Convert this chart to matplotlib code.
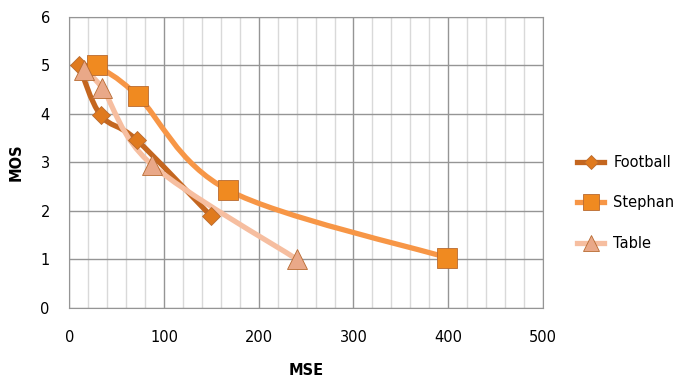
import numpy as np
import matplotlib
matplotlib.use("Agg")
import matplotlib.pyplot as plt
from matplotlib.path import Path
from matplotlib.patches import PathPatch

# values
football_mse = [10, 33, 71, 150]
football_mos = [5.0, 3.97, 3.46, 1.88]
stephan_mse = [29, 72, 168, 399]
stephan_mos = [5.0, 4.37, 2.42, 1.03]
table_mse = [15, 35, 87, 240]
table_mos = [4.9, 4.52, 2.95, 1.0]

x_ticks = [0, 100, 200, 300, 400, 500]
y_ticks = [0, 1, 2, 3, 4, 5, 6]


def smooth_path(xs, ys):
    # excel style smoothed line: bezier through the points
    p = np.column_stack([xs, ys]).astype(float)
    n = len(p)
    verts = [p[0]]
    codes = [Path.MOVETO]
    for i in range(n - 1):
        prev = p[i - 1] if i > 0 else p[i]
        nxt = p[i + 2] if i + 2 < n else p[i + 1]
        c1 = p[i] + (p[i + 1] - prev) / 6.0
        c2 = p[i + 1] - (nxt - p[i]) / 6.0
        verts += [c1, c2, p[i + 1]]
        codes += [Path.CURVE4] * 3
    return Path(verts, codes)


fig = plt.figure(figsize=(6.89, 3.85), dpi=100)
ax = fig.add_axes([0.1006, 0.201, 0.6874, 0.7555])

series = [
    ("Football", football_mse, football_mos, "#C4661F", "#E07A1E", "D", 9),
    ("Stephan", stephan_mse, stephan_mos, "#F79646", "#F08A20", "s", 14),
    ("Table", table_mse, table_mos, "#F6BEA0", "#E9A888", "^", 14),
]

handles = []
for name, xs, ys, lc, mc, mk, ms in series:
    patch = PathPatch(smooth_path(xs, ys), fill=False, edgecolor=lc, lw=3.8,
                      capstyle="round", joinstyle="round", zorder=3)
    ax.add_patch(patch)
    ax.plot(xs, ys, linestyle="none", marker=mk, markersize=ms,
            markerfacecolor=mc, markeredgecolor="#B86A30", markeredgewidth=0.6,
            zorder=4)
    h, = ax.plot([], [], color=lc, lw=3.8, marker=mk, markersize=ms * 0.8,
                 markerfacecolor=mc, markeredgecolor="#B86A30",
                 markeredgewidth=0.6)
    handles.append(h)

ax.set_xlim(0, 500)
ax.set_ylim(0, 6)
ax.set_xticks(x_ticks)
ax.set_yticks(y_ticks)
ax.set_xticks(np.arange(0, 501, 20), minor=True)
ax.grid(which="major", color="#959595", lw=1.0, zorder=1)
ax.grid(which="minor", axis="x", color="#D9D9D9", lw=1.0, zorder=0)
ax.tick_params(which="both", length=0)
ax.tick_params(axis="x", pad=16, labelsize=10.5)
ax.tick_params(axis="y", pad=14, labelsize=10.5)
for s in ax.spines.values():
    s.set_color("#959595")

ax.set_xlabel("MSE", fontsize=10.5, fontweight="bold", labelpad=13)
ax.set_ylabel("MOS", fontsize=10.5, fontweight="bold", labelpad=12)

fig.legend(handles, [s[0] for s in series], loc="center left",
           bbox_to_anchor=(0.818, 0.473), frameon=False, fontsize=10.5,
           handlelength=1.9, labelspacing=1.75, handletextpad=0.6)

fig.savefig("out.png", dpi=100)
